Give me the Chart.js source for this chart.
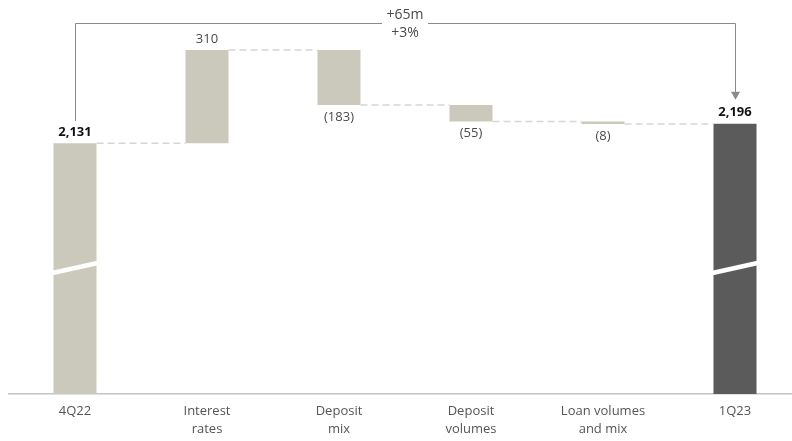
<!DOCTYPE html>
<html>
<head>
<meta charset="utf-8">
<script src="https://cdn.jsdelivr.net/npm/chart.js@4"></script>
<style>
  html, body { margin: 0; padding: 0; background: #fff; overflow: hidden; }
  #wrap { position: relative; width: 801px; height: 441px; }
</style>
</head>
<body>
<div id="wrap"><canvas id="myChart"></canvas></div>
<script>
// waterfall data
const categories = ['4Q22', ['Interest', 'rates'], ['Deposit', 'mix'], ['Deposit', 'volumes'], ['Loan volumes', 'and mix'], '1Q23']
const startValue = 2131
const changes = [310, -183, -55, -8]
const endValue = 2196
const valueLabels = ['2,131', '310', '(183)', '(55)', '(8)', '2,196']
const totalLabel = ['+65m', '+3%']
const axisMin = 1295
const axisMax = 2608

const lightColor = '#cbc9bc'
const darkColor = '#5a5b5a'
const fontName = '"Open Sans", "Noto Sans", sans-serif'

// build floating bars from the running total
let ranges = [[axisMin, startValue]]
let running = startValue
for (let i = 0; i < changes.length; i++) {
  let next = running + changes[i]
  ranges.push([Math.min(running, next), Math.max(running, next)])
  running = next
}
ranges.push([axisMin, endValue])

const colors = ranges.map((r, i) => i == ranges.length - 1 ? darkColor : lightColor)

// connectors, axis breaks, labels, bracket
const waterfallExtras = {
  id: 'waterfallExtras',
  afterDatasetsDraw(chart) {
    const ctx = chart.ctx
    const meta = chart.getDatasetMeta(0)
    const yScale = chart.scales.y
    const bars = meta.data

    // dashed connectors between bars
    ctx.save()
    ctx.strokeStyle = '#d6d6d6'
    ctx.lineWidth = 1.5
    ctx.setLineDash([7, 4])
    let level = startValue
    for (let i = 0; i < bars.length - 1; i++) {
      if (i > 0) level = level + changes[i - 1]
      const y = yScale.getPixelForValue(level)
      const a = bars[i].getProps(['x', 'width'], true)
      const b = bars[i + 1].getProps(['x', 'width'], true)
      ctx.beginPath()
      ctx.moveTo(a.x + a.width / 2, y)
      ctx.lineTo(b.x - b.width / 2, y)
      ctx.stroke()
    }
    ctx.restore()

    // axis break marks on the two totals
    const breakY = yScale.getPixelForValue(1715)
    ;[0, bars.length - 1].forEach(i => {
      const p = bars[i].getProps(['x', 'width'], true)
      ctx.save()
      ctx.strokeStyle = '#ffffff'
      ctx.lineWidth = 4.5
      ctx.beginPath()
      ctx.moveTo(p.x - p.width / 2 - 1, breakY + 5)
      ctx.lineTo(p.x + p.width / 2 + 1, breakY - 5)
      ctx.stroke()
      ctx.restore()
    })

    // value labels
    ctx.save()
    ctx.textAlign = 'center'
    ctx.textBaseline = 'middle'
    for (let i = 0; i < bars.length; i++) {
      const x = bars[i].x
      const isTotal = i == 0 || i == bars.length - 1
      let y
      if (isTotal) {
        y = yScale.getPixelForValue(ranges[i][1]) - 11
        ctx.font = 'bold 13px ' + fontName
        ctx.fillStyle = '#111111'
      } else if (changes[i - 1] >= 0) {
        y = yScale.getPixelForValue(ranges[i][1]) - 11
        ctx.font = '13px ' + fontName
        ctx.fillStyle = '#4a4a4a'
      } else {
        y = yScale.getPixelForValue(ranges[i][0]) + 12
        ctx.font = '13px ' + fontName
        ctx.fillStyle = '#4a4a4a'
      }
      ctx.fillText(valueLabels[i], x, y)
    }
    ctx.restore()

    // bracket from first total to last total
    const x0 = bars[0].x
    const x1 = bars[bars.length - 1].x
    const topY = 23.5
    const leftEnd = yScale.getPixelForValue(startValue) - 22
    const arrowTip = yScale.getPixelForValue(endValue) - 24
    const textX = 405
    ctx.save()
    ctx.strokeStyle = '#8a8a8a'
    ctx.fillStyle = '#8a8a8a'
    ctx.lineWidth = 1
    ctx.beginPath()
    ctx.moveTo(x0 + 0.5, leftEnd)
    ctx.lineTo(x0 + 0.5, topY)
    ctx.lineTo(textX - 23, topY)
    ctx.moveTo(textX + 23, topY)
    ctx.lineTo(x1 + 0.5, topY)
    ctx.lineTo(x1 + 0.5, arrowTip - 7)
    ctx.stroke()
    ctx.beginPath()
    ctx.moveTo(x1 + 0.5 - 4.5, arrowTip - 8)
    ctx.lineTo(x1 + 0.5 + 4.5, arrowTip - 8)
    ctx.lineTo(x1 + 0.5, arrowTip)
    ctx.closePath()
    ctx.fill()
    ctx.font = '14px ' + fontName
    ctx.fillStyle = '#4a4a4a'
    ctx.textAlign = 'center'
    ctx.textBaseline = 'middle'
    ctx.fillText(totalLabel[0], textX, 15)
    ctx.fillText(totalLabel[1], textX, 33)
    ctx.restore()
  }
}

const ctx = document.getElementById('myChart').getContext('2d')
const chart = new Chart(ctx, {
  type: 'bar',
  data: {
    labels: categories,
    datasets: [{
      data: ranges,
      backgroundColor: colors,
      borderWidth: 0,
      barPercentage: 1,
      categoryPercentage: 0.326
    }]
  },
  options: {
    responsive: true,
    maintainAspectRatio: false,
    animation: false,
    layout: { padding: { left: 9, right: 0, top: 0, bottom: 0 } },
    plugins: {
      legend: { display: false },
      tooltip: { enabled: false }
    },
    scales: {
      x: {
        grid: { display: false, drawTicks: false },
        border: { display: true, color: '#c4c4c4', width: 1.5 },
        ticks: {
          color: '#555555',
          font: { family: fontName, size: 13, lineHeight: 1.38 },
          padding: 8,
          maxRotation: 0,
          autoSkip: false
        },
        afterFit: (scale) => { scale.height = 47 }
      },
      y: {
        display: false,
        min: axisMin,
        max: axisMax
      }
    }
  },
  plugins: [waterfallExtras]
})
</script>
</body>
</html>
